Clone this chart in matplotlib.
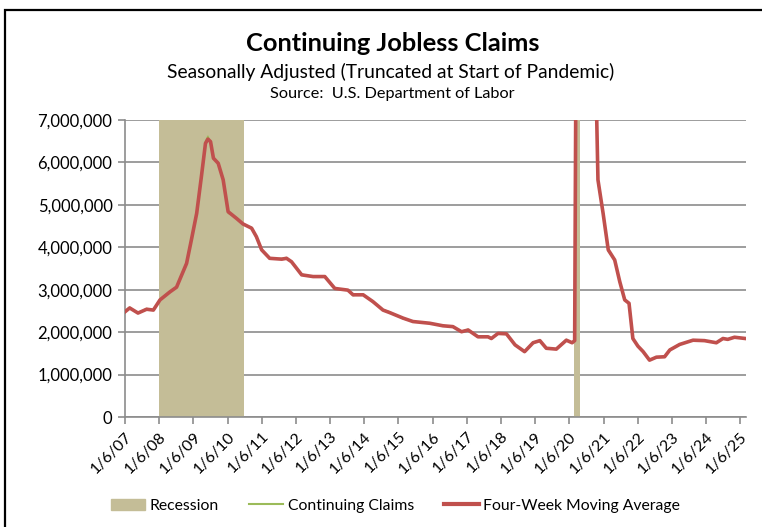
import pandas as pd
import matplotlib.pyplot as plt
from matplotlib.patches import Patch, Rectangle
from matplotlib.lines import Line2D
from matplotlib.ticker import FuncFormatter

plt.rcParams['font.family'] = ['Lato', 'DejaVu Sans']

# Claims data (millions), read at irregular dates
dates = ["2007-01-06", "2007-02-25", "2007-05-25", "2007-08-25", "2007-11-05",
         "2008-01-15", "2008-05-01", "2008-07-10", "2008-10-25", "2008-12-15",
         "2009-02-10", "2009-04-01", "2009-05-15", "2009-06-10", "2009-07-08",
         "2009-08-08", "2009-09-28", "2009-11-20", "2010-01-12", "2010-04-12",
         "2010-06-20", "2010-09-20", "2010-11-10", "2011-01-05", "2011-04-01",
         "2011-08-08", "2011-09-28", "2011-11-20", "2012-03-08", "2012-07-08",
         "2012-11-10", "2013-02-25", "2013-07-15", "2013-09-08", "2013-12-25",
         "2014-04-08", "2014-07-25", "2014-10-05", "2015-02-25", "2015-06-10",
         "2015-12-05", "2016-04-25", "2016-08-10", "2016-11-10", "2017-01-20",
         "2017-05-05", "2017-08-20", "2017-09-25", "2017-12-05", "2018-03-05",
         "2018-06-05", "2018-09-15", "2018-12-15", "2019-02-25", "2019-05-05",
         "2019-08-20", "2019-12-05", "2020-02-05", "2020-03-03", "2020-03-17",
         "2020-04-10", "2020-05-15", "2020-08-01", "2020-10-01", "2020-10-25",
         "2020-11-07", "2021-01-01", "2021-02-25", "2021-05-05", "2021-06-28",
         "2021-08-20", "2021-10-05", "2021-11-15", "2022-01-08", "2022-03-05",
         "2022-05-12", "2022-07-25", "2022-10-20", "2022-12-15", "2023-03-30",
         "2023-08-20", "2023-12-20", "2024-04-25", "2024-07-05", "2024-08-25",
         "2024-11-05", "2025-03-01"]

moving_avg = [2.48, 2.57, 2.45, 2.54, 2.52, 2.76, 2.95, 3.06, 3.62, 4.17,
              4.80, 5.66, 6.45, 6.55, 6.49, 6.10, 5.98, 5.59, 4.84, 4.68,
              4.55, 4.45, 4.25, 3.94, 3.74, 3.72, 3.74, 3.66, 3.35, 3.31,
              3.31, 3.03, 2.99, 2.88, 2.88, 2.72, 2.52, 2.46, 2.33, 2.25,
              2.21, 2.15, 2.13, 2.01, 2.05, 1.89, 1.89, 1.85, 1.97, 1.96,
              1.70, 1.54, 1.75, 1.80, 1.62, 1.60, 1.81, 1.75, 1.80, 8.50,
              16.0, 22.5, 15.5, 9.50, 7.00, 5.59, 4.80, 3.94, 3.70, 3.19,
              2.76, 2.68, 1.85, 1.67, 1.54, 1.34, 1.41, 1.42, 1.58, 1.71,
              1.81, 1.80, 1.75, 1.85, 1.83, 1.88, 1.85]

continuing = [2.50, 2.59, 2.44, 2.56, 2.51, 2.78, 2.97, 3.05, 3.65, 4.20,
              4.83, 5.70, 6.50, 6.62, 6.46, 6.07, 6.01, 5.55, 4.80, 4.70,
              4.53, 4.47, 4.22, 3.96, 3.72, 3.74, 3.76, 3.64, 3.37, 3.30,
              3.33, 3.01, 3.00, 2.86, 2.90, 2.70, 2.53, 2.48, 2.31, 2.26,
              2.20, 2.16, 2.12, 2.02, 2.07, 1.88, 1.90, 1.84, 1.98, 1.95,
              1.69, 1.53, 1.77, 1.79, 1.61, 1.61, 1.83, 1.74, 1.82, 9.20,
              17.5, 23.0, 15.0, 9.20, 6.90, 5.50, 4.85, 3.90, 3.72, 3.15,
              2.79, 2.65, 1.83, 1.68, 1.52, 1.33, 1.42, 1.41, 1.60, 1.70,
              1.82, 1.79, 1.76, 1.86, 1.82, 1.89, 1.84]

recessions = [("2008-01-06", "2010-07-01"), ("2020-03-01", "2020-05-01")]
tick_years = list(range(2007, 2026))

x = pd.to_datetime(dates)
scale = 1e6

fig = plt.figure(figsize=(7.62, 5.27), dpi=100)
ax = fig.add_axes([125/762, 110/527, 621/762, 297/527])

for start, end in recessions:
    ax.axvspan(pd.Timestamp(start), pd.Timestamp(end), color='#C4BD97', lw=0, zorder=1)

ax.plot(x, [v*scale for v in continuing], color='#9BBB59', lw=1.0, zorder=3)
ax.plot(x, [v*scale for v in moving_avg], color='#C0504D', lw=2.6, zorder=4)

ax.set_xlim(pd.Timestamp("2007-01-06"), pd.Timestamp("2025-03-08"))
ax.set_ylim(0, 7e6)
ax.set_yticks(range(0, 7000001, 1000000))
ax.yaxis.set_major_formatter(FuncFormatter(lambda v, p: f"{int(v):,}"))

ticks = [pd.Timestamp(f"{y}-01-06") for y in tick_years]
ax.set_xticks(ticks)
ax.set_xticklabels([f"1/6/{str(y)[2:]}" for y in tick_years], rotation=45,
                   ha='right', va='top', rotation_mode='anchor')

ax.grid(axis='y', color='#8C8C8C', lw=1.2, zorder=0)
ax.set_axisbelow(True)
for side in ['top', 'right']:
    ax.spines[side].set_visible(False)
for side in ['left', 'bottom']:
    ax.spines[side].set_color('#8C8C8C')
    ax.spines[side].set_linewidth(1.2)
ax.tick_params(axis='both', color='#8C8C8C', length=5, width=1.2, labelsize=12, pad=4)
ax.tick_params(axis='x', labelsize=11.5)

fig.text(0.515, 0.918, "Continuing Jobless Claims", ha='center', va='center',
         fontsize=18.3, fontweight='bold')
fig.text(0.513, 0.863, "Seasonally Adjusted (Truncated at Start of Pandemic)",
         ha='center', va='center', fontsize=13.9)
fig.text(0.515, 0.821, "Source:  U.S. Department of Labor", ha='center', va='center',
         fontsize=11.7)

handles = [Patch(color='#C4BD97'),
           Line2D([], [], color='#9BBB59', lw=1.5),
           Line2D([], [], color='#C0504D', lw=3)]
fig.legend(handles, ["Recession", "Continuing Claims", "Four-Week Moving Average"],
           loc='center', bbox_to_anchor=(0.519, 0.04), ncol=3, frameon=False,
           fontsize=11.3, handlelength=2.2, columnspacing=1.9, handletextpad=0.3)

fig.patches.append(Rectangle((5/762, -0.1), 1.2, 517/527 + 0.1, transform=fig.transFigure,
                             fill=False, ec='black', lw=1.6))

fig.savefig("out.png", dpi=100)
